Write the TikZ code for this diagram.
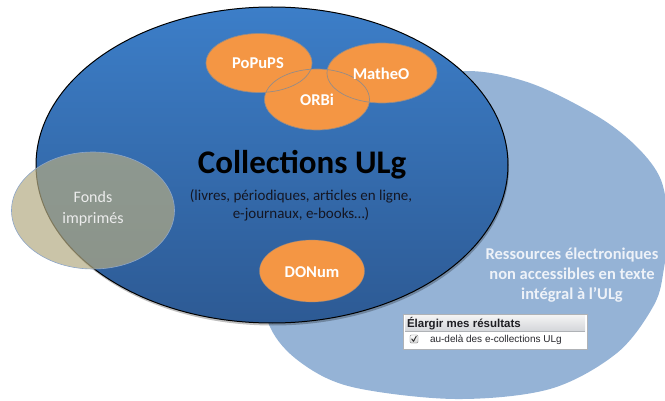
\documentclass[tikz,border=0pt]{standalone}
\usepackage{fontspec}
\newfontfamily\carlito{Carlito}
\newfontfamily\arialf{Liberation Sans}
\usetikzlibrary{shapes.geometric}
\definecolor{lightbluef}{RGB}{149,179,214}
\definecolor{darktop}{RGB}{60,126,200}
\definecolor{darkbot}{RGB}{45,90,148}
\definecolor{orangef}{RGB}{244,150,68}
\definecolor{orangeedgec}{RGB}{150,140,135}
\definecolor{tanf}{RGB}{180,171,131}
\definecolor{tanedge}{RGB}{140,165,200}
\definecolor{softwhite}{RGB}{238,242,248}
\definecolor{boxgray}{RGB}{175,178,182}
\definecolor{hdtop}{RGB}{242,242,242}
\definecolor{hdbot}{RGB}{212,214,218}
\begin{document}
\begin{tikzpicture}[x=1pt,y=-1pt,
  txt/.style={inner sep=0pt, outer sep=0pt},
  orangefill/.style={ellipse, fill=orangef, inner sep=0pt, outer sep=0pt},
  orangeedge/.style={draw=orangeedgec, line width=0.7pt},
  orangelabel/.style={txt, text=white, font=\carlito\bfseries\fontsize{16.5}{18}\selectfont, anchor=base}]
\path[use as bounding box] (0,0) rectangle (665,401);
\clip (0,0) rectangle (665,401);
% light blue ellipse
\fill[lightbluef] plot[smooth cycle, tension=0.55] coordinates {(465,71) (530,83) (597,116) (637,147) (661,180) (668,225) (664,268) (654,305) (617,353) (550,389) (455,399) (352,387) (300,362) (270,327) (258,270) (270,200) (310,130) (390,85)};
% shadow of main ellipse
\fill[black, opacity=0.25] (273,167.5) ellipse [x radius=236pt, y radius=158pt];
% main ellipse
\node[ellipse, minimum width=472pt, minimum height=316pt, inner sep=0pt, top color=darktop, bottom color=darkbot, draw=black, line width=1pt] (coll) at (272,165) {};
% orange ellipses: fills
\node[orangefill, minimum width=106pt, minimum height=59pt] (pop) at (259,63) {};
\node[orangefill, minimum width=110pt, minimum height=60pt] (mat) at (382,73) {};
\node[orangefill, minimum width=105pt, minimum height=61pt] (orb) at (317,99.5) {};
\node[orangefill, minimum width=105pt, minimum height=62pt] (don) at (312,271) {};
% orange ellipses: outlines
\draw[orangeedge] (pop.center) ellipse [x radius=53pt, y radius=29.5pt];
\draw[orangeedge] (mat.center) ellipse [x radius=55pt, y radius=30pt];
\draw[orangeedge] (orb.center) ellipse [x radius=52.5pt, y radius=30.5pt];
\draw[orangeedge, draw opacity=0.5] (don.center) ellipse [x radius=52.5pt, y radius=31pt];
% orange labels
\node[orangelabel] (poptxt) at (258,68.5) {PoPuPS};
\node[orangelabel] (mattxt) at (381,80) {MatheO};
\node[orangelabel] (orbtxt) at (317,105.5) {ORBi};
\node[orangelabel] (dontxt) at (312,277.5) {DONum};
% main labels
\node[txt, anchor=base, font=\carlito\bfseries\fontsize{33}{36}\selectfont, text=black] (colltitle) at (302,174) {Collections ULg};
\node[txt, align=center, font=\carlito\fontsize{15}{18}\selectfont, text={rgb,255:red,20;green,22;blue,35}] (collsub) at (301,205) {(livres, périodiques, articles en ligne,\\e-journaux, e-books…)};
% fonds imprimés
\node[ellipse, minimum width=163pt, minimum height=117pt, inner sep=0pt, fill=tanf, fill opacity=0.7, draw=tanedge, line width=0.6pt] (fonds) at (93,210.5) {};
\node[txt, align=center, font=\carlito\fontsize{16}{21}\selectfont, text={rgb,255:red,236;green,236;blue,236}] (fondstxt) at (93,209) {Fonds\\imprimés};
% ressources text
\node[txt, align=center, font=\carlito\bfseries\fontsize{16.5}{20}\selectfont, text=softwhite] (ress) at (572,275) {Ressources électroniques\\non accessibles en texte\\intégral à l’ULg};
% search option box
\node[draw=boxgray, fill=white, minimum width=184pt, minimum height=35pt, inner sep=0pt, line width=0.7pt] (box) at (495,331.5) {};
\node[minimum width=180pt, minimum height=15pt, inner sep=0pt, top color=hdtop, bottom color=hdbot] (hdr) at (495,323.5) {};
\draw[boxgray, line width=0.5pt] (hdr.south west) -- (hdr.south east);
\node[txt, anchor=west, font=\arialf\bfseries\fontsize{11.5}{13}\selectfont, text={rgb,255:red,30;green,30;blue,35}] (hdrtxt) at (407,324) {Élargir mes résultats};
\node[draw=gray!85!black, rounded corners=1.2pt, minimum size=8pt, inner sep=0pt, top color=white, bottom color=gray!35, line width=0.4pt] (chk) at (414,339) {};
\draw[line width=1pt, black!80, line cap=round, line join=round] (411.8,339) -- (413.5,341.3) -- (416.3,336.2);
\node[txt, anchor=west, font=\arialf\fontsize{10}{12}\selectfont, text={rgb,255:red,40;green,40;blue,45}] (chktxt) at (430,339.5) {au-delà des e-collections ULg};
\end{tikzpicture}
\end{document}
